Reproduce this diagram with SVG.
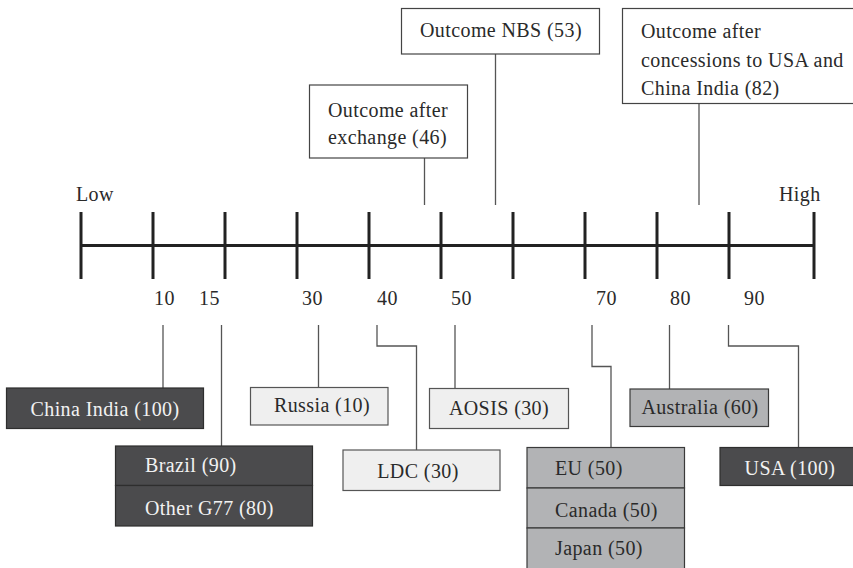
<svg xmlns="http://www.w3.org/2000/svg" width="853" height="568" viewBox="0 0 853 568" font-family="Liberation Serif, DejaVu Serif, serif" font-size="20">
<style>
text{font-family:"Liberation Serif","DejaVu Serif",serif;font-size:20px;fill:#2a2a2a;letter-spacing:0.4px}
.axis{stroke:#222;stroke-width:3;fill:none}
.con{stroke:#555;stroke-width:1.3;fill:none}
.top{fill:#fff;stroke:#444;stroke-width:1.2}
.dark{fill:#4b4b4d;stroke:#2e2e2e;stroke-width:1.2}
.light{fill:#efefef;stroke:#555;stroke-width:1.2}
.mid{fill:#b2b3b5;stroke:#3a3a3a;stroke-width:1.2}
.wt{fill:#f2f2f2}
.c{text-anchor:middle}
</style>
<rect width="853" height="568" fill="#fff"/>
<g id="axis">
<line class="axis" x1="81" y1="245.5" x2="814" y2="245.5"/>
<path class="axis" d="M81 212V279M153 212V279M225 212V279M297 212V279M369 212V279M441 212V279M513 212V279M585 212V279M657 212V279M729 212V279M814 212V279"/>
<text x="76" y="201">Low</text>
<text x="779" y="201">High</text>
<text x="154" y="305">10</text>
<text x="199" y="305">15</text>
<text x="302" y="305">30</text>
<text x="377" y="305">40</text>
<text x="451" y="305">50</text>
<text x="596" y="305">70</text>
<text x="670" y="305">80</text>
<text x="744" y="305">90</text>
</g>
<g id="connectors">
<path class="con" d="M424.5 158V205"/>
<path class="con" d="M495.5 54V205"/>
<path class="con" d="M699 103V205"/>
<path class="con" d="M163 325V388"/>
<path class="con" d="M221.5 325V446"/>
<path class="con" d="M318.5 325V387"/>
<path class="con" d="M377 325V346H416.5V450"/>
<path class="con" d="M455 325V388"/>
<path class="con" d="M592 325V366.5H611V447"/>
<path class="con" d="M669.5 325V389"/>
<path class="con" d="M728.5 325V346H798.5V447"/>
</g>
<g id="outcome-exchange">
<rect class="top" x="309.5" y="85" width="158" height="73"/>
<text x="328" y="117">Outcome after</text>
<text x="328" y="144">exchange (46)</text>
</g>
<g id="outcome-nbs">
<rect class="top" x="401.5" y="8.5" width="198" height="45.5"/>
<text x="420" y="37">Outcome NBS (53)</text>
</g>
<g id="outcome-concessions">
<rect class="top" x="622.5" y="8.5" width="240" height="95"/>
<text x="641" y="38">Outcome after</text>
<text x="641" y="67">concessions to USA and</text>
<text x="641" y="95">China India (82)</text>
</g>
<g id="china-india">
<rect class="dark" x="6.5" y="388" width="197" height="40.5"/>
<text class="wt c" x="105" y="415.5">China India (100)</text>
</g>
<g id="brazil-g77">
<rect class="dark" x="115.5" y="446" width="197" height="39.5"/>
<rect class="dark" x="115.5" y="485.5" width="197" height="40.5"/>
<text class="wt" x="145" y="472">Brazil (90)</text>
<text class="wt" x="145" y="515">Other G77 (80)</text>
</g>
<g id="russia">
<rect class="light" x="250.5" y="387.5" width="137.5" height="37.5"/>
<text class="c" x="322" y="412">Russia (10)</text>
</g>
<g id="ldc">
<rect class="light" x="343" y="450" width="157" height="40.5"/>
<text class="c" x="418" y="478">LDC (30)</text>
</g>
<g id="aosis">
<rect class="light" x="429.5" y="388.5" width="139" height="40"/>
<text class="c" x="499" y="415">AOSIS (30)</text>
</g>
<g id="eu-canada-japan">
<rect class="mid" x="527" y="447.5" width="157.5" height="40.5"/>
<rect class="mid" x="527" y="488" width="157.5" height="40"/>
<rect class="mid" x="527" y="528" width="157.5" height="45"/>
<text x="555" y="475">EU (50)</text>
<text x="555" y="516.5">Canada (50)</text>
<text x="555" y="555">Japan (50)</text>
</g>
<g id="australia">
<rect class="mid" x="630" y="389" width="138.5" height="37.5"/>
<text class="c" x="700" y="413.5">Australia (60)</text>
</g>
<g id="usa">
<rect class="dark" x="720" y="447.5" width="140" height="38"/>
<text class="wt c" x="790" y="475">USA (100)</text>
</g>
</svg>
